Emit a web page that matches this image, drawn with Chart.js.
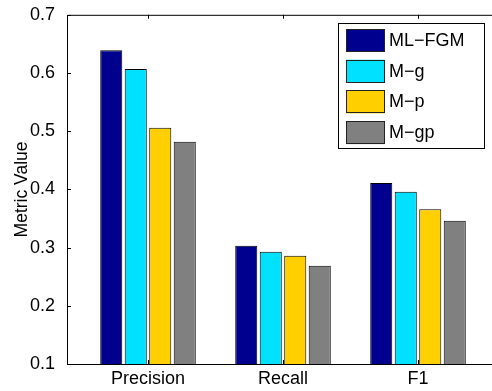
<!DOCTYPE html>
<html lang="en">
<head>
    <meta charset="UTF-8">
    <title>Metric Value</title>
    <style>
        body {
            margin: 0;
            padding: 0;
            background: white;
            overflow: hidden;
        }
        .box {
            width: 510px;
            height: 391px;
        }
    </style>
</head>
<body>

<div class="box">
    <canvas id="grafico"></canvas>
</div>

<script src="https://cdn.jsdelivr.net/npm/chart.js"></script>
<script>
    // dados
    const categories = ['Precision', 'Recall', 'F1'];
    const seriesNames = ['ML\u2212FGM', 'M\u2212g', 'M\u2212p', 'M\u2212gp'];
    const mlfgm = [0.639, 0.303, 0.411];
    const mg = [0.607, 0.293, 0.396];
    const mp = [0.506, 0.286, 0.366];
    const mgp = [0.482, 0.269, 0.346];
    const yTicks = [0.1, 0.2, 0.3, 0.4, 0.5, 0.6, 0.7];

    const cores = ['#00008F', '#00E0FF', '#FFCF00', '#808080'];
    const fonte = '"Liberation Sans", Arial, sans-serif';

    const series = [mlfgm, mg, mp, mgp];
    const datasets = series.map((vals, i) => ({
        label: seriesNames[i],
        data: vals.map((v, j) => ({ x: j + 1, y: v })),
        backgroundColor: cores[i],
        borderColor: '#000',
        borderWidth: 1,
        categoryPercentage: 0.726,
        barPercentage: 0.9
    }));

    // moldura estilo matlab: linhas do eixo e marcas para dentro
    const moldura = {
        id: 'moldura',
        afterDatasetsDraw(chart) {
            const { ctx, chartArea: a, scales: { x, y } } = chart;
            ctx.save();
            ctx.strokeStyle = '#000';
            ctx.lineWidth = 1;
            ctx.beginPath();
            ctx.moveTo(a.right, a.top + 0.5);
            ctx.lineTo(a.left + 0.5, a.top + 0.5);
            ctx.lineTo(a.left + 0.5, a.bottom + 0.5);
            ctx.lineTo(a.right, a.bottom + 0.5);
            categories.forEach((c, i) => {
                const px = Math.round(x.getPixelForValue(i + 1)) + 0.5;
                ctx.moveTo(px, a.top);
                ctx.lineTo(px, a.top + 4);
                ctx.moveTo(px, a.bottom);
                ctx.lineTo(px, a.bottom - 4);
            });
            yTicks.forEach(v => {
                const py = Math.round(y.getPixelForValue(v)) + 0.5;
                ctx.moveTo(a.left, py);
                ctx.lineTo(a.left + 4, py);
            });
            ctx.stroke();
            ctx.restore();
        },
        afterDraw(chart) {
            const ctx = chart.ctx;
            const bx = 338, by = 23, bw = 146, bh = 125;
            ctx.save();
            ctx.fillStyle = '#fff';
            ctx.fillRect(bx, by, bw, bh);
            ctx.strokeStyle = '#000';
            ctx.lineWidth = 1;
            ctx.strokeRect(bx + 0.5, by + 0.5, bw, bh);
            ctx.font = '18px ' + fonte;
            ctx.textBaseline = 'middle';
            chart.data.datasets.forEach((ds, i) => {
                const sy = 29 + i * 30.7;
                ctx.fillStyle = ds.backgroundColor;
                ctx.fillRect(346, sy, 39, 23);
                ctx.strokeStyle = '#222';
                ctx.strokeRect(346.5, Math.round(sy) + 0.5, 38, 22);
                ctx.fillStyle = '#000';
                ctx.fillText(ds.label, 389, sy + 12);
            });
            ctx.restore();
        }
    };

    const ctx = document.getElementById('grafico').getContext('2d');
    const chart = new Chart(ctx, {
        type: 'bar',
        data: { datasets: datasets },
        options: {
            responsive: true,
            maintainAspectRatio: false,
            animation: false,
            layout: { padding: { top: 13, right: 11, bottom: 0, left: 0 } },
            plugins: {
                legend: { display: false },
                tooltip: { enabled: false }
            },
            scales: {
                x: {
                    type: 'linear',
                    offset: false,
                    min: 0.4,
                    max: 3.6,
                    grid: { display: false },
                    border: { display: false },
                    afterBuildTicks: (axis) => {
                        axis.ticks = categories.map((c, i) => ({ value: i + 1 }));
                    },
                    afterFit: (axis) => { axis.height = 27; },
                    ticks: {
                        color: '#000',
                        padding: -2,
                        maxRotation: 0,
                        font: { family: fonte, size: 18, lineHeight: 1 },
                        callback: (v) => categories[Math.round(v) - 1] || ''
                    }
                },
                y: {
                    min: 0.1,
                    max: 0.7,
                    grid: { display: false },
                    border: { display: false },
                    afterBuildTicks: (axis) => {
                        axis.ticks = yTicks.map(v => ({ value: v }));
                    },
                    afterFit: (axis) => { axis.width = 67; },
                    title: {
                        display: true,
                        text: 'Metric Value',
                        color: '#000',
                        font: { family: fonte, size: 17.5 },
                        padding: { top: 12, bottom: 0 }
                    },
                    ticks: {
                        color: '#000',
                        padding: 4,
                        font: { family: fonte, size: 18 },
                        callback: (v) => v.toFixed(1)
                    }
                }
            }
        },
        plugins: [moldura]
    });
</script>

</body>
</html>
